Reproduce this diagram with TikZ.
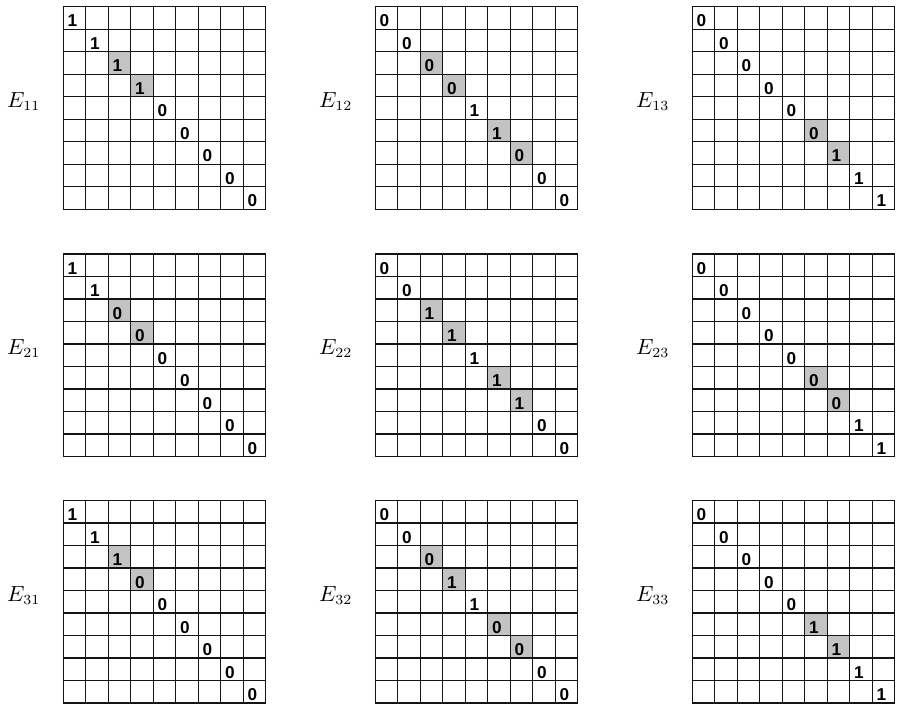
\documentclass[tikz,border=0pt]{standalone}
\usepackage{fontspec}
\newfontfamily\digitfont{Liberation Sans}
\definecolor{cellgray}{RGB}{195,195,195}
\definecolor{linecol}{RGB}{20,20,20}
\begin{document}
\begin{tikzpicture}[x=0.5pt,y=-0.5pt,
  cellfill/.style={fill=cellgray},
  gridline/.style={line width=0.58pt, draw=linecol},
  digit/.style={anchor=base west, inner sep=0pt, font=\digitfont\bfseries\fontsize{8.6}{10}\selectfont},
  elabel/.style={anchor=base west, inner sep=0pt, font=\fontsize{10.5}{12}\selectfont}]
\useasboundingbox (0,0) rectangle (898,704);
\foreach \gx/\gy/\nm/\sub/\vals/\shade in {
  63.3/6.7/a/11/{1,1,1,1,0,0,0,0,0}/{2,3},
  375.3/6.7/b/12/{0,0,0,0,1,1,0,0,0}/{2,3,5,6},
  692.3/6.7/c/13/{0,0,0,0,0,0,1,1,1}/{5,6},
  63.3/254/d/21/{1,1,0,0,0,0,0,0,0}/{2,3},
  375.3/254/e/22/{0,0,1,1,1,1,1,0,0}/{2,3,5,6},
  692.3/254/f/23/{0,0,0,0,0,0,0,1,1}/{5,6},
  63.3/500.5/g/31/{1,1,1,0,0,0,0,0,0}/{2,3},
  375.3/500.5/h/32/{0,0,0,1,1,0,0,0,0}/{2,3,5,6},
  692.3/500.5/i/33/{0,0,0,0,0,1,1,1,1}/{5,6}}
{
  \foreach \s in \shade {
    \fill[cellfill] (\gx+\s*22.5,\gy+\s*22.5) rectangle ++(22.5,22.5);
  }
  \foreach \k in {0,...,9} {
    \draw[gridline] (\gx+\k*22.5,\gy) -- ++(0,202.5);
    \draw[gridline] (\gx,\gy+\k*22.5) -- ++(202.5,0);
  }
  \foreach \v [count=\i from 0] in \vals {
    \node[digit] (\nm\i) at (\gx+\i*22.5+3.8,\gy+\i*22.5+20.3) {\v};
  }
  \node[elabel] (lab\nm) at (\gx-56.5,\gy+100.5) {$E_{\sub}$};
}
\end{tikzpicture}
\end{document}
